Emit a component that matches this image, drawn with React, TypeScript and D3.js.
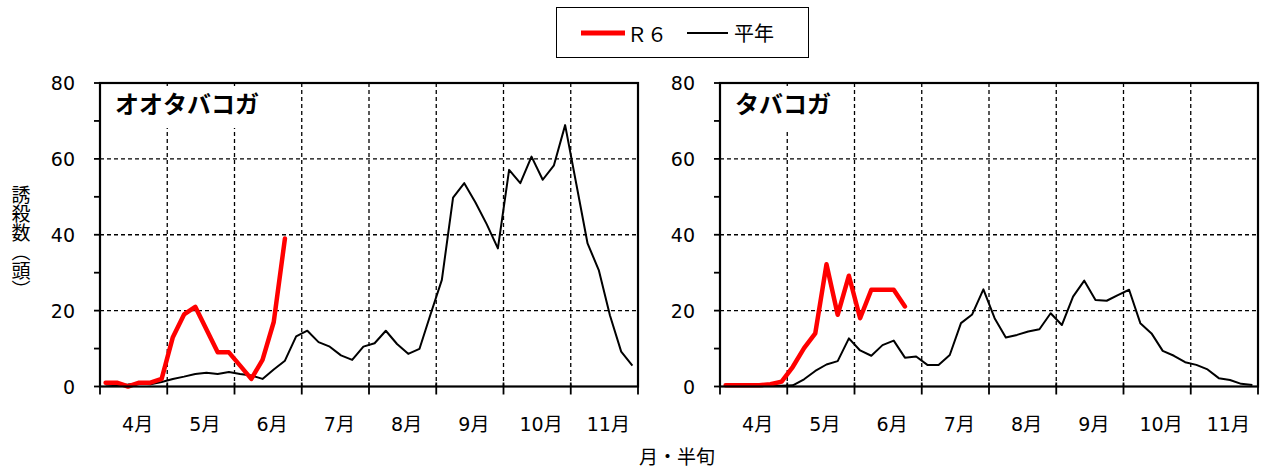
import * as d3 from 'd3';

// 4月〜11月、各月6半旬
const months = ['4月', '5月', '6月', '7月', '8月', '9月', '10月', '11月'];
const halvesPerMonth = 6;
const yTicks = [0, 20, 40, 60, 80];

// オオタバコガ
const oootaR6 = [1, 1, 0, 1, 1, 2, 13, 19, 21, 15, 9, 9, 5.5, 2, 7, 17, 39];
const oootaAvg = [
    0.5, 0.3, 0.5, 0.8, 0.6, 1.2, 2, 2.6, 3.3, 3.6, 3.3, 3.8,
    3.3, 2.9, 2.0, 4.5, 6.8, 13.2, 14.7, 11.7, 10.5, 8.2, 7, 10.5,
    11.4, 14.7, 11.2, 8.6, 9.9, 19.1, 28.1, 49.8, 53.6, 48.5, 42.8, 36.4,
    57.1, 53.6, 60.6, 54.5, 58.3, 68.9, 53.3, 37.7, 30.7, 18.7, 9.2, 5.5,
];

// タバコガ
const tabakoR6 = [0.3, 0.3, 0.3, 0.3, 0.6, 1.3, 5.2, 10.1, 14, 32.2, 18.9, 29.2, 18, 25.5, 25.5, 25.5, 21.1];
const tabakoAvg = [
    0.2, 0.2, 0.2, 0.2, 0.2, 0.2, 0.3, 1.9, 4.1, 5.8, 6.7, 12.7,
    9.5, 8.1, 10.9, 12.1, 7.6, 7.9, 5.7, 5.7, 8.3, 16.7, 19, 25.6,
    18, 12.9, 13.6, 14.5, 15.1, 19.3, 16.2, 23.7, 27.9, 22.8, 22.6, 24.1,
    25.5, 16.7, 14, 9.4, 8.1, 6.4, 5.7, 4.5, 2.2, 1.7, 0.7, 0.4,
];

const numFont = "Verdana, 'DejaVu Sans', 'Noto Sans CJK JP', sans-serif";
const jpFont = "'Noto Sans CJK JP', sans-serif";

const plotW = 538;
const plotTop = 83;
const plotBottom = 386.5;

type PanelProps = {
    left: number;
    title: string;
    boxW: number;
    boxH: number;
    r6: number[];
    avg: number[];
};

const Panel = ({ left, title, boxW, boxH, r6, avg }: PanelProps) => {
    const n = months.length * halvesPerMonth;
    const x = d3.scaleLinear().domain([0, n]).range([left, left + plotW]);
    const y = d3.scaleLinear().domain([0, 80]).range([plotBottom, plotTop]);
    const line = d3.line<number>()
        .x((d, i) => x(i + 0.5))
        .y(d => y(d));
    const monthEdges = d3.range(0, months.length + 1).map(m => m * halvesPerMonth);
    const minor = d3.range(0, 81, 10);

    return (
        <g>
            {/* grid */}
            {[20, 40, 60].map(v => (
                <line key={'h' + v} x1={x(0)} x2={x(n)} y1={y(v)} y2={y(v)}
                    stroke="#000" strokeWidth={1.3} strokeDasharray="4 3" />
            ))}
            {monthEdges.slice(1, -1).map(e => (
                <line key={'v' + e} x1={x(e)} x2={x(e)} y1={y(80)} y2={y(0)}
                    stroke="#000" strokeWidth={1.3} strokeDasharray="4 3" />
            ))}

            {/* title */}
            <rect x={x(0) + 2} y={plotTop + 3} width={boxW} height={boxH} fill="#fff" />
            <text x={x(0) + 15} y={113} fontFamily={jpFont} fontWeight={700} fontSize={24}>{title}</text>

            {/* series */}
            <path d={line(avg) ?? ''} fill="none" stroke="#000" strokeWidth={2} strokeLinejoin="round" />
            <path d={line(r6) ?? ''} fill="none" stroke="#ff0000" strokeWidth={4.5}
                strokeLinejoin="round" strokeLinecap="round" />

            {/* frame */}
            <rect x={x(0)} y={plotTop} width={plotW} height={plotBottom - plotTop}
                fill="none" stroke="#000" strokeWidth={2.2} />

            {/* y ticks */}
            {minor.map(v => (
                <line key={'yt' + v} x1={x(0) - 6} x2={x(0)} y1={y(v)} y2={y(v)} stroke="#000" strokeWidth={1.8} />
            ))}
            {yTicks.map(v => (
                <text key={'yl' + v} x={x(0) - 25} y={y(v)} textAnchor="end" dominantBaseline="central"
                    fontFamily={numFont} fontSize={19}>{v}</text>
            ))}

            {/* x ticks */}
            {monthEdges.map(e => (
                <line key={'xt' + e} x1={x(e)} x2={x(e)} y1={plotBottom - 4} y2={plotBottom + 8} stroke="#000" strokeWidth={1.8} />
            ))}
            {months.map((m, i) => (
                <text key={m} x={x(i * halvesPerMonth + halvesPerMonth / 2) + 4} y={431} textAnchor="middle"
                    fontFamily={numFont} fontSize={19}>{m}</text>
            ))}
        </g>
    );
};

const App = () => {
    return (
        <div style={{ position: 'absolute', left: 0, top: 0 }}>
            <svg width={1265} height={470} style={{ display: 'block' }}>
                <rect width={1265} height={470} fill="#fff" />

                {/* legend */}
                <rect x={556.5} y={7.5} width={252} height={50} fill="#fff" stroke="#000" strokeWidth={1} />
                <line x1={581} x2={625} y1={33} y2={33} stroke="#ff0000" strokeWidth={5} />
                <text x={627} y={33} dominantBaseline="central" fontFamily={jpFont} fontSize={20}>Ｒ６</text>
                <line x1={687} x2={728} y1={33} y2={33} stroke="#000" strokeWidth={2} />
                <text x={734} y={32} dominantBaseline="central" fontFamily={jpFont} fontSize={20}>平年</text>

                <Panel left={100} title="オオタバコガ" boxW={168} boxH={42} r6={oootaR6} avg={oootaAvg} />
                <Panel left={720} title="タバコガ" boxW={126} boxH={46} r6={tabakoR6} avg={tabakoAvg} />

                {/* axis titles */}
                <text x={21} y={242} textAnchor="middle" fontFamily={jpFont} fontSize={19}
                    style={{ writingMode: 'vertical-rl' }}>誘殺数（頭）</text>
                <text x={677} y={464} textAnchor="middle" fontFamily={jpFont} fontSize={19}>月・半旬</text>
            </svg>
        </div>
    );
};

export default App;
